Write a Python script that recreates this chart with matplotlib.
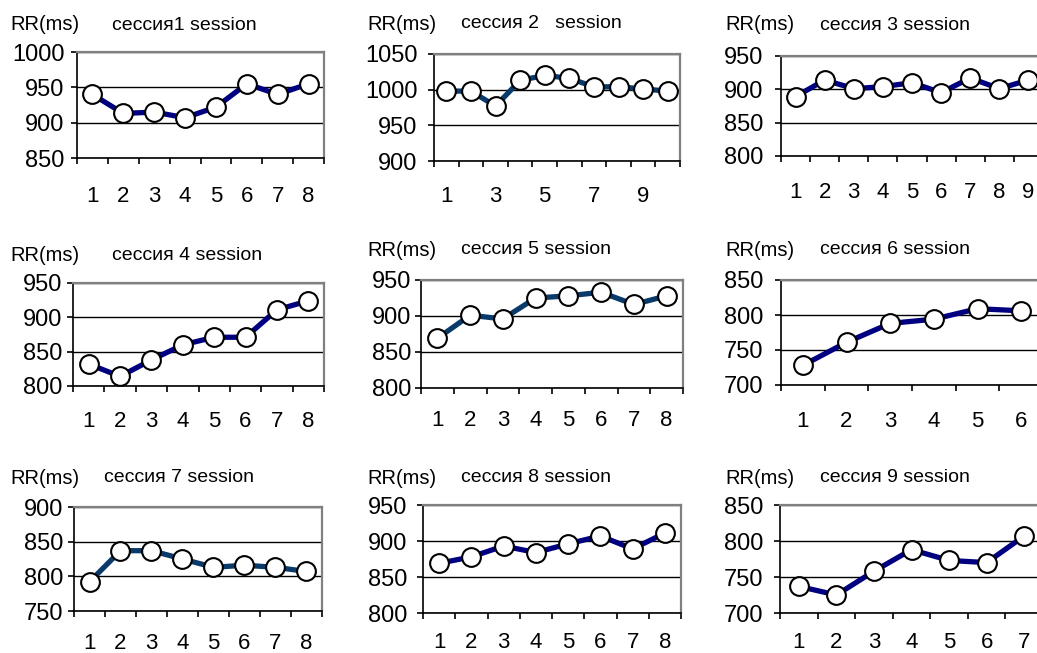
import numpy as np
import matplotlib
matplotlib.use("Agg")
import matplotlib.pyplot as plt

plt.rcParams['font.family'] = ['Liberation Sans', 'DejaVu Sans']

W, H = 1037, 653

# RR interval means per session
s1 = [940, 913, 915, 907, 922, 955, 940, 955]
s2 = [998, 998, 977, 1013, 1020, 1016, 1004, 1004, 1001, 998]
s3 = [889, 914, 901, 904, 910, 895, 917, 901, 914]
s4 = [832, 814, 838, 860, 871, 871, 911, 924]
s5 = [869, 901, 896, 925, 928, 933, 916, 928]
s6 = [728, 761, 788, 794, 809, 806]
s7 = [792, 837, 837, 825, 813, 816, 813, 807]
s8 = [869, 878, 893, 884, 896, 907, 889, 911]
s9 = [737, 725, 758, 788, 773, 770, 807]

series = [s1, s2, s3, s4, s5, s6, s7, s8, s9]
titles = ["сессия1 session", "сессия 2   session", "сессия 3 session",
          "сессия 4 session", "сессия 5 session", "сессия 6 session",
          "сессия 7 session", "сессия 8 session", "сессия 9 session"]
ylims = [(850, 1000), (900, 1050), (800, 950),
         (800, 950), (800, 950), (700, 850),
         (750, 900), (800, 950), (700, 850)]
line_colors = ["#000080", "#0a3a6a", "#000080",
               "#000080", "#0a3a6a", "#000080",
               "#0a3a6a", "#000080", "#000080"]
label_step = [1, 2, 1, 1, 1, 1, 1, 1, 1]

# plot boxes in pixels: left, top, right, bottom
boxes = [(77, 52, 324, 158), (434, 54, 680, 161), (781, 56, 1043, 156),
         (73, 283, 324, 386), (421, 280, 683, 388), (781, 280, 1043, 385),
         (74, 507, 322, 611), (423, 505, 681, 613), (780, 505, 1043, 613)]
xpads = [17, 15, 16, 15, 13, 16, 13, 11, 11]
ypads = [5, 8, 9, 4, 3, 9, 4, 7, 8]
# title rows: y centre, x of "RR(ms)", x of session text
title_pos = [(25, 10, 112), (24, 367, 461), (25, 725, 820),
             (255, 10, 112), (250, 367, 461), (250, 725, 820),
             (478, 10, 104), (478, 367, 461), (478, 725, 820)]

fig = plt.figure(figsize=(W / 100, H / 100), dpi=100)

for i, vals in enumerate(series):
    l, t, r, b = boxes[i]
    ax = fig.add_axes([l / W, 1 - b / H, (r - l) / W, (b - t) / H])
    n = len(vals)
    x = np.arange(1, n + 1)
    ax.plot(x, vals, color=line_colors[i], lw=3.8, zorder=3,
            marker='o', ms=13.5, mfc='white', mec='black', mew=1.5,
            clip_on=False)
    lo, hi = ylims[i]
    ax.set_ylim(lo, hi)
    ax.set_xlim(0.5, n + 0.5)
    ax.set_yticks(np.arange(lo, hi + 1, 50))
    ax.yaxis.grid(True, color='black', lw=1)
    ax.set_axisbelow(True)

    # category boundaries carry the tick marks, centres carry the labels
    ax.set_xticks(np.arange(0.5, n + 1, 1))
    ax.set_xticklabels([])
    centres = x[::label_step[i]]
    ax.set_xticks(centres, minor=True)
    ax.set_xticklabels([str(c) for c in centres], minor=True)
    ax.tick_params(axis='x', which='major', length=4, width=1.2, direction='out')
    ax.tick_params(axis='x', which='minor', length=0, pad=xpads[i] + 3,
                   labelsize=16)
    ax.tick_params(axis='y', length=4, width=1.2, direction='out',
                   pad=ypads[i], labelsize=17)

    for side in ('top', 'right'):
        ax.spines[side].set_color('#808080')
        ax.spines[side].set_linewidth(1.6)
    for side in ('left', 'bottom'):
        ax.spines[side].set_color('black')
        ax.spines[side].set_linewidth(1.2)

    ty, rx, sx = title_pos[i]
    fig.text(rx / W, 1 - ty / H, "RR(ms)", fontsize=14.5, va='center', ha='left')
    fig.text(sx / W, 1 - ty / H, titles[i], fontsize=14, va='center', ha='left')

fig.savefig("out.png", dpi=100)
